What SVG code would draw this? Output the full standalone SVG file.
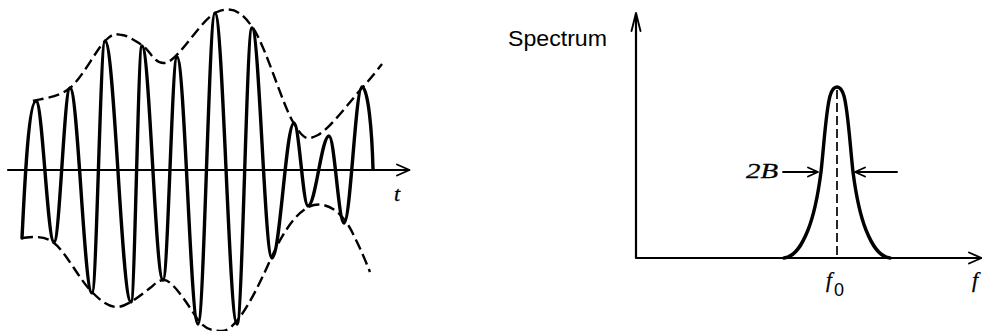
<svg xmlns="http://www.w3.org/2000/svg" width="982" height="331" viewBox="0 0 982 331">
<style>
.axis{fill:none;stroke:#000;stroke-width:2.2;stroke-linecap:round;stroke-linejoin:round}
.wave{fill:none;stroke:#000;stroke-width:3.4;stroke-linejoin:round;stroke-linecap:round}
.env{fill:none;stroke:#000;stroke-width:2.4;stroke-dasharray:11 5}
.dash{fill:none;stroke:#000;stroke-width:1.7;stroke-dasharray:9 4}
.head{fill:none;stroke:#000;stroke-width:1.9;stroke-linecap:round;stroke-linejoin:round}
.ital{font-family:"Liberation Serif","Times New Roman",serif;font-style:italic;fill:#000;stroke:#000;stroke-width:0.3}
.sans{font-family:"Liberation Sans",Arial,sans-serif;fill:#000}
</style>
<rect width="982" height="331" fill="#fff"/>
<g id="time-signal">
  <g id="time-axis">
    <path class="axis" d="M8 170 L409 170"/>
    <path class="head" d="M397 164.5 L409.5 170 L397 175.5"/>
    <text class="ital" x="394" y="201" font-size="22">t</text>
  </g>
  <g id="envelope">
    <path class="env" d="M33 101 C39.2 98.8 58 98 70 88 C82 78 96.3 49.8 105 41 C113.7 32.2 115.8 34.3 122 35 C128.2 35.7 134.3 40.5 142 45 C149.7 49.5 155.5 67.5 168 62 C180.5 56.5 202.8 17.7 217 12 C231.2 6.3 240.3 9.7 253 28 C265.7 46.3 282.2 103.8 293 122 C303.8 139.8 306.5 140.7 318 135 C329.5 129.3 351.3 99.8 362 88 C372.7 76.2 378.7 68 382 64"/>
    <path class="env" d="M22 238 C32 237 44 235 54 243 C66 252 80 281 93 293 C100 300 108 307 117 307 C126 307 140 296 150 288 C155 284 158 280 164 280 C172 280 185 300 198 320 C205 329 212 331 222 331 C234 331 250 305 268 265 C280 238 295 210 314 205 C330 202 345 215 355 238 C361 250 366 262 370 272"/>
  </g>
  <g id="carrier">
    <path class="wave" d="M22 238 C24 200 28 101 36 101 C42.6 101 47.4 242 54 242 C59.8 242 64.2 88 70 88 C78 88 84 293 92 293 C96.7 293 100.3 41 105 41 C114.5 41 121.5 302 131 302 C135 302 138 46 142 46 C149.6 46 155.4 280 163 280 C168.1 280 171.9 57 177 57 C184.6 57 190.4 324 198 324 C204.2 324 208.8 13 215 13 C223 13 229 324 237 324 C242.5 324 246.5 28 252 28 C259.3 28 264.7 258 272 258 C280 258 286 123 294 123 C299.1 123 302.9 206 308 206 C315.6 206 321.4 136 329 136 C334.5 136 338.5 223 344 223 C350.6 223 355.4 87 362 87 C368 87 372 130 373 169"/>
  </g>
</g>
<g id="spectrum">
  <g id="spectrum-axes">
    <path class="axis" d="M636 14 L636 258 L981 258"/>
    <path class="head" d="M631.5 31 L636 13 L640.5 31"/>
    <path class="head" d="M969 252.5 L981.5 258 L969 263.5"/>
    <text class="sans" x="508" y="46" font-size="22" textLength="99" lengthAdjust="spacingAndGlyphs">Spectrum</text>
    <text class="ital" x="972" y="287" font-size="22">f</text>
  </g>
  <g id="peak">
    <path class="wave" d="M784 258 C795 257 802 245 808 230 C814 215 818 195 821 172 C824 145 826 110 830 96 C832 89 835 87 837 87 C839 87 842 89 844 96 C848 110 850 145 853 172 C856 195 860 215 866 230 C872 245 879 257 890 258"/>
    <path class="dash" d="M837 90 L837 258"/>
    <text class="ital" x="826" y="287" font-size="21">f</text>
    <text class="sans" x="834" y="296" font-size="18">0</text>
  </g>
  <g id="bandwidth">
    <path class="head" d="M783 172 L817 172 M808 167.5 L818 172 L808 176.5"/>
    <path class="head" d="M897 172 L856 172 M865 167.5 L855 172 L865 176.5"/>
    <text class="ital" x="746" y="178" font-size="21" textLength="32" lengthAdjust="spacingAndGlyphs">2B</text>
  </g>
</g>
</svg>
